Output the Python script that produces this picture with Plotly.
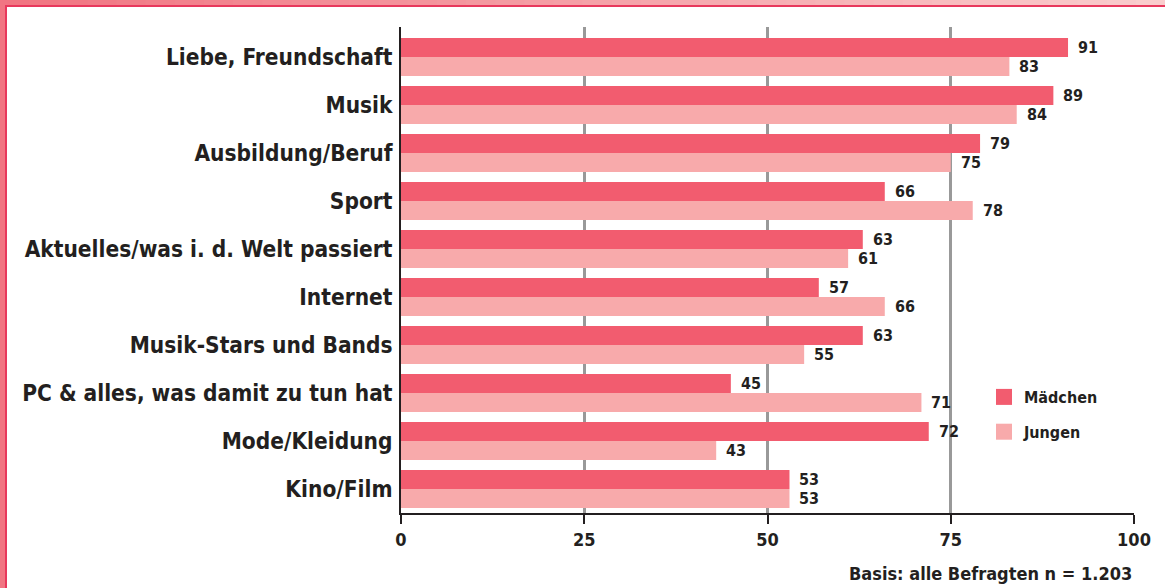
import plotly.graph_objects as go

categories = [
    "Liebe, Freundschaft",
    "Musik",
    "Ausbildung/Beruf",
    "Sport",
    "Aktuelles/was i. d. Welt passiert",
    "Internet",
    "Musik-Stars und Bands",
    "PC & alles, was damit zu tun hat",
    "Mode/Kleidung",
    "Kino/Film",
]
maedchen = [91, 89, 79, 66, 63, 57, 63, 45, 72, 53]
jungen = [83, 84, 75, 78, 61, 66, 55, 71, 43, 53]
x_ticks = [0, 25, 50, 75, 100]

FONT = "DejaVu Sans Condensed, Liberation Sans Narrow, sans-serif"
C_M = "#F25C6F"
C_J = "#F8AAAB"
TXT = "#231F20"

W, H = 1165, 588
L, R, T, B = 401, 1134, 27, 513

def px(x):
    return (x - L) / (R - L)

def py(y):
    return (B - y) / (B - T)

fig = go.Figure()
fig.add_trace(go.Bar(y=categories, x=maedchen, orientation="h", name="Mädchen",
                     marker=dict(color=C_M, line=dict(width=0)), showlegend=False))
fig.add_trace(go.Bar(y=categories, x=jungen, orientation="h", name="Jungen",
                     marker=dict(color=C_J, line=dict(width=0)), showlegend=False))
# legend entries
fig.add_trace(go.Scatter(x=[None], y=[None], mode="markers", name="Mädchen", legendgroup="m",
                         marker=dict(symbol="square", size=20, color=C_M)))
fig.add_trace(go.Scatter(x=[None], y=[None], mode="markers", name="Jungen", legendgroup="j",
                         marker=dict(symbol="square", size=20, color=C_J)))

vfont = dict(family=FONT, size=16, color=TXT, weight="bold")
annotations = []
for i, c in enumerate(categories):
    annotations.append(dict(x=maedchen[i], y=i - 0.2, xref="x", yref="y", text=str(maedchen[i]),
                            showarrow=False, xanchor="left", yanchor="middle", xshift=8, font=vfont))
    annotations.append(dict(x=jungen[i], y=i + 0.2, xref="x", yref="y", text=str(jungen[i]),
                            showarrow=False, xanchor="left", yanchor="middle", xshift=8, font=vfont))

annotations.append(dict(x=1.0, y=py(573), xref="paper", yref="paper",
                        text="Basis: alle Befragten n = 1.203", showarrow=False,
                        xanchor="right", yanchor="middle",
                        font=dict(family=FONT, size=18, color=TXT, weight="bold")))

shapes = []
# left border
shapes.append(dict(type="rect", xref="paper", yref="paper", x0=px(0), x1=px(5), y0=py(0), y1=py(H),
                   fillcolor="#F17582", line=dict(width=0), layer="above"))
shapes.append(dict(type="rect", xref="paper", yref="paper", x0=px(5), x1=px(7), y0=py(5), y1=py(H),
                   fillcolor="#E8385C", line=dict(width=0), layer="above"))
# top border gradient
n = 40
c0 = (241, 117, 130)
c1 = (250, 205, 205)
for k in range(n):
    t = k / (n - 1)
    col = "rgb(%d,%d,%d)" % tuple(int(c0[j] + (c1[j] - c0[j]) * t) for j in range(3))
    x0 = W * k / n
    x1 = W * (k + 1) / n + 1
    shapes.append(dict(type="rect", xref="paper", yref="paper", x0=px(x0), x1=px(x1),
                       y0=py(0), y1=py(5), fillcolor=col, line=dict(width=0), layer="above"))
shapes.append(dict(type="rect", xref="paper", yref="paper", x0=px(5), x1=px(W), y0=py(5), y1=py(7),
                   fillcolor="#E8385C", line=dict(width=0), layer="above"))

fig.update_layout(
    width=W, height=H,
    margin=dict(l=L, r=W - R, t=T, b=H - B, pad=0),
    paper_bgcolor="white", plot_bgcolor="white",
    barmode="group", bargap=0.21, bargroupgap=0,
    font=dict(family=FONT, color=TXT),
    xaxis=dict(range=[0, 100], tickvals=x_ticks, showgrid=True, gridcolor="#999999", gridwidth=2.5,
               zeroline=False, showline=True, linecolor=TXT, linewidth=2,
               ticks="outside", ticklen=9, tickwidth=2, tickcolor=TXT,
               tickfont=dict(family=FONT, size=18, color=TXT, weight="bold"), fixedrange=True),
    yaxis=dict(type="category", categoryarray=categories, range=[9.5, -0.625],
               showgrid=False, zeroline=False, showline=True, linecolor=TXT, linewidth=2,
               ticks="", ticklabelstandoff=2,
               tickfont=dict(family=FONT, size=22.5, color=TXT, weight="bold"), fixedrange=True),
    legend=dict(x=px(984), y=py(380), xanchor="left", yanchor="top",
                font=dict(family=FONT, size=16, color=TXT, weight="bold"),
                bgcolor="rgba(0,0,0,0)", itemsizing="trace", tracegroupgap=11, itemwidth=30),
    annotations=annotations,
    shapes=shapes,
)

fig.write_html("out.html")
